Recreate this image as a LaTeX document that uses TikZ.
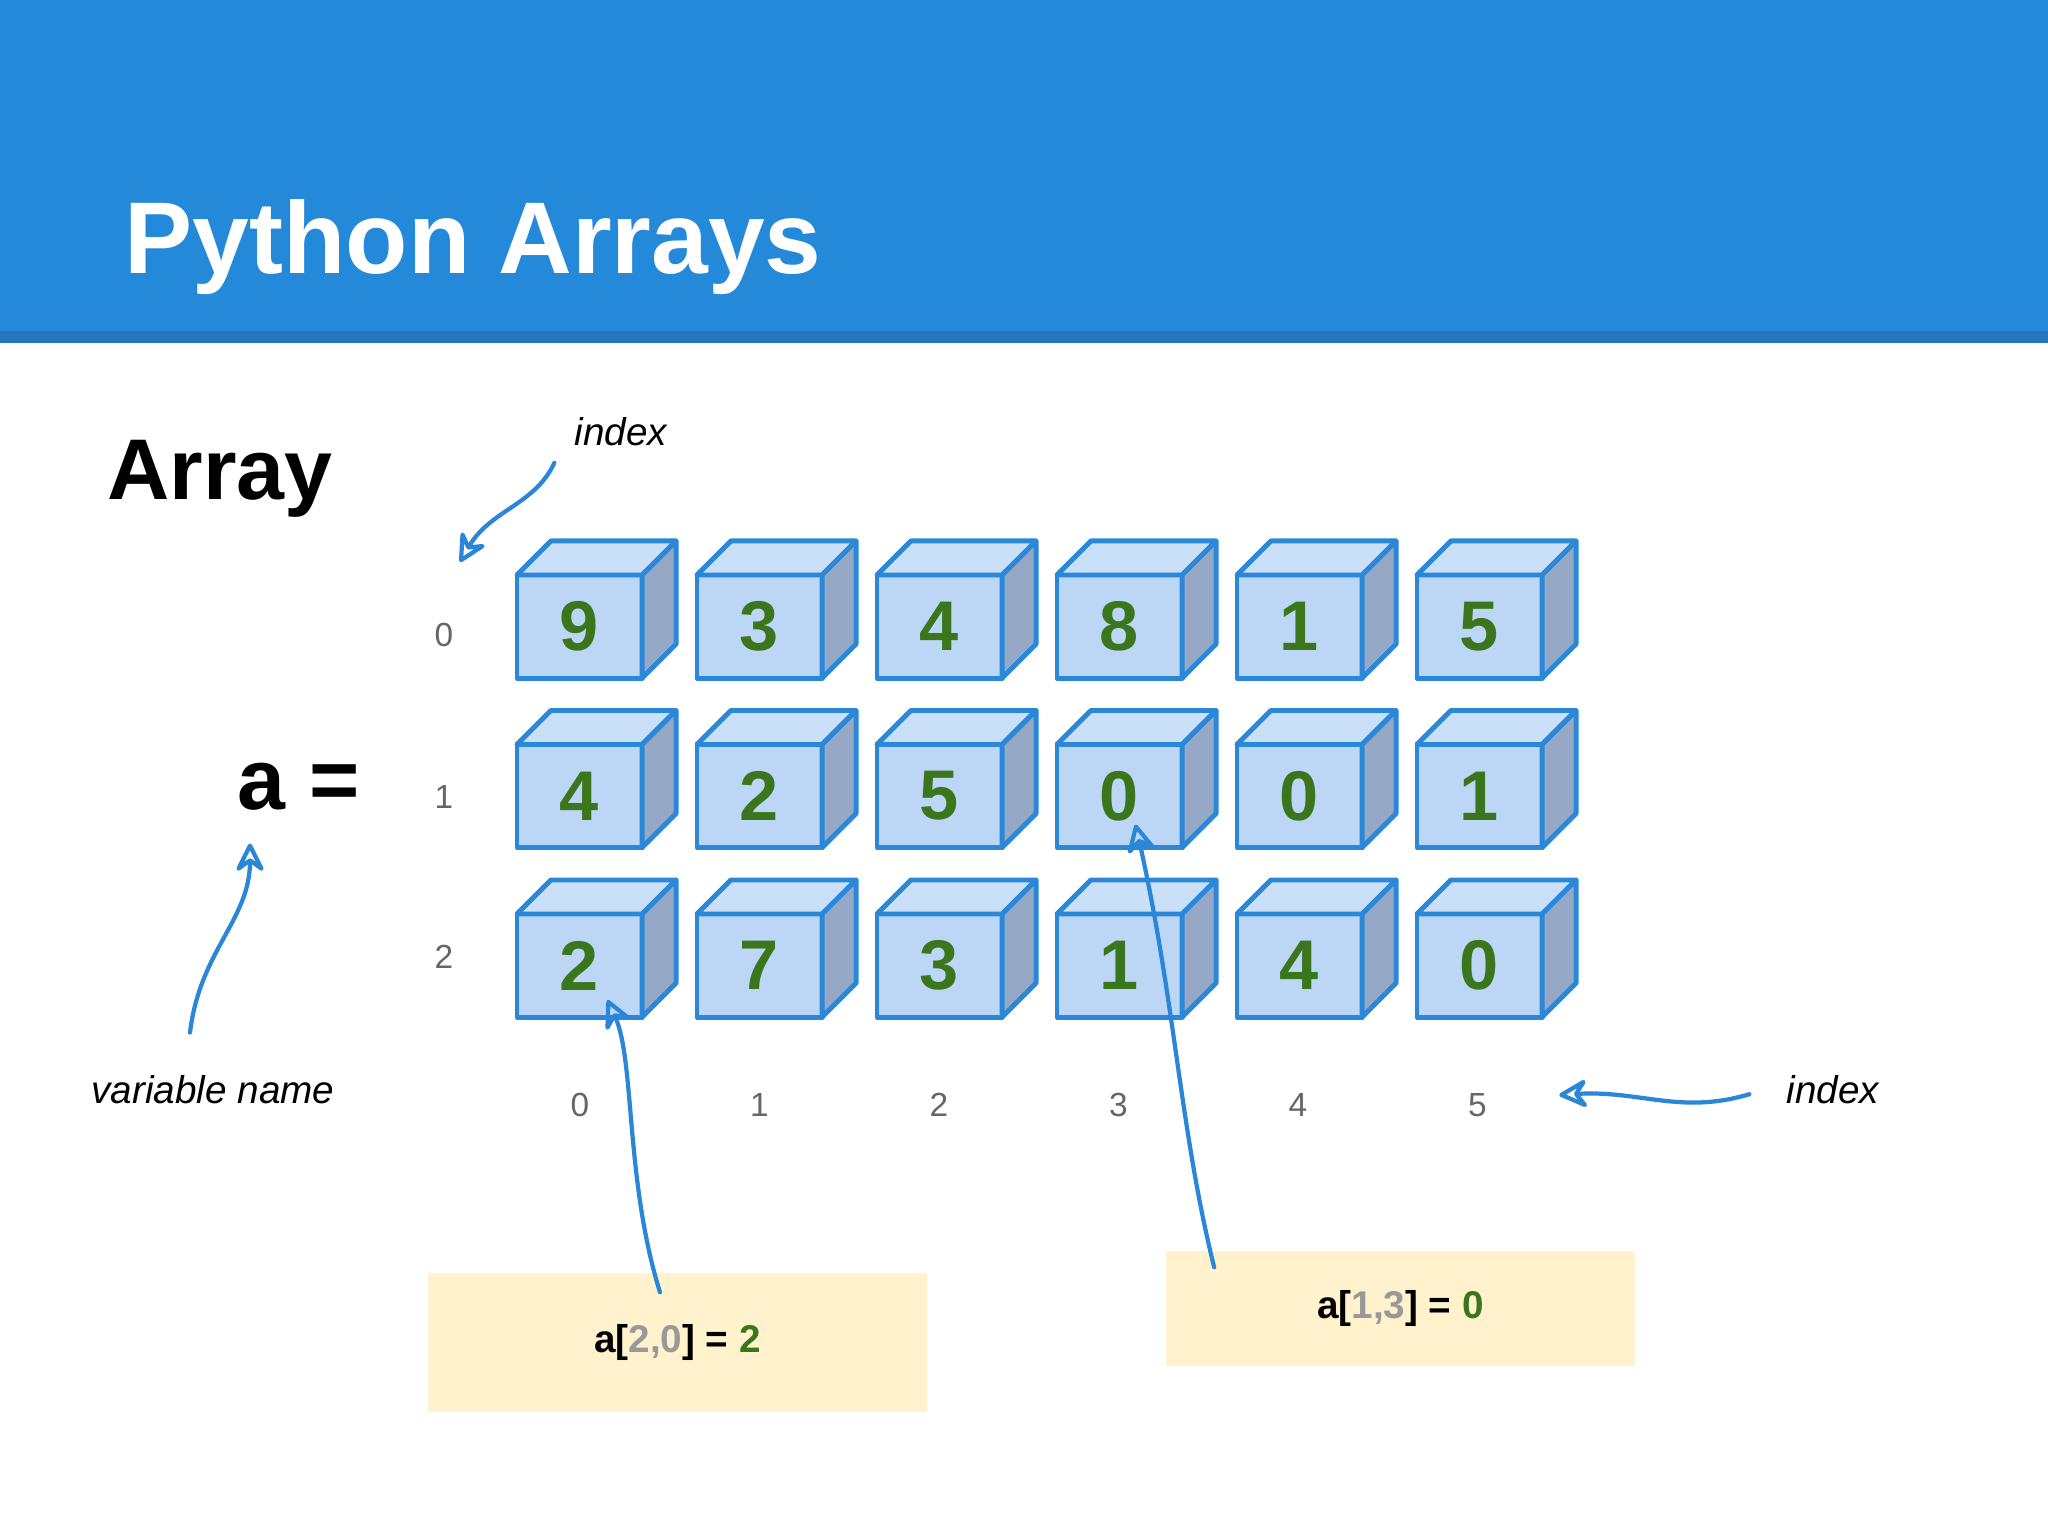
\documentclass[tikz,border=0pt]{standalone}
\usepackage{fontspec}
\setmainfont{Liberation Sans}
\usepackage{tikz}
\usetikzlibrary{arrows.meta,positioning}
\usepackage{xcolor}
\definecolor{headblue}{HTML}{2589DA}
\definecolor{headdark}{HTML}{2575BF}
\definecolor{cubeline}{HTML}{2B88D8}
\definecolor{cubefront}{HTML}{BCD7F5}
\definecolor{cubetop}{HTML}{CADFF8}
\definecolor{cubeside}{HTML}{95A9C7}
\definecolor{numgreen}{HTML}{3B761D}
\definecolor{labgray}{HTML}{666666}
\definecolor{keygray}{HTML}{999999}
\definecolor{notebox}{HTML}{FFF2CC}
\definecolor{penblue}{HTML}{2A87D8}
\newcommand{\Key}[1]{\textcolor{keygray}{#1}}
\newcommand{\Val}[1]{\textcolor{numgreen}{#1}}

\begin{document}
\begin{tikzpicture}[x=0.01cm,y=-0.01cm,
  cell/.style={rectangle,draw=cubeline,fill=cubefront,line width=1.4pt,line join=round,
    minimum width=1.25cm,minimum height=1.03cm,inner sep=0pt,outer sep=0pt,
    text=numgreen,font=\fontsize{20}{24}\selectfont\bfseries},
  celltop/.style={draw=cubeline,fill=cubetop,line width=1.4pt,line join=round},
  cellside/.style={draw=cubeline,fill=cubeside,line width=1.4pt,line join=round},
  idx/.style={text=labgray,font=\fontsize{9.5}{11}\selectfont},
  hint/.style={font=\fontsize{11}{13}\selectfont\itshape},
  note/.style={rectangle,fill=notebox,inner sep=0pt,font=\fontsize{11}{13}\selectfont\bfseries},
  pen/.style={draw=penblue,line width=1.2pt,line cap=round,
    -{Stealth[open,round,length=0.34cm,width=0.34cm,inset=0.12cm]}}]
% \draw[help lines] (0,0) grid (2048,1536);
\useasboundingbox (0,0) rectangle (2048,1536);
\fill[white] (0,0) rectangle (2048,1536);
%
% header
\fill[headblue] (0,0) rectangle (2048,331);
\fill[headdark] (0,331) rectangle (2048,343);
\node (title) [anchor=base west,inner sep=0pt,text=white,font=\fontsize{29}{34}\selectfont\bfseries] at (124,273) {Python Arrays};
%
\node (arr) [anchor=base west,inner sep=0pt,font=\fontsize{24.5}{29}\selectfont\bfseries] at (107,499) {Array};
\node (aeq) [anchor=base west,inner sep=0pt,font=\fontsize{24.5}{29}\selectfont\bfseries] at (237,809) {a =};
%
% the cubes
\foreach \vals [count=\r from 0] in {{9,3,4,8,1,5},{4,2,5,0,0,1},{2,7,3,1,4,0}} {
  \foreach \v [count=\c from 0] in \vals {
    \node (c-\r-\c) [cell] at (579.5+180*\c,626.5+169.5*\r) {\v};
    \draw[celltop] (c-\r-\c.north west) -- ++(0.34cm,0.34cm) -- ++(1.25cm,0) -- (c-\r-\c.north east) -- cycle;
    \draw[cellside] (c-\r-\c.north east) -- ++(0.34cm,0.34cm) -- ++(0,-1.03cm) -- (c-\r-\c.south east) -- cycle;
  }
}
%
% indices
\node (row-0) [idx] at (444,635) {0};
\node (row-1) [idx] at (444,797) {1};
\node (row-2) [idx] at (444,957) {2};
\foreach \c in {0,...,5}
  \node (col-\c) [idx] at (580+179.5*\c,1105) {\c};
%
\node (idxtop) [hint,anchor=base] at (621,445) {index};
\node (idxright) [hint,anchor=base] at (1833,1103) {index};
\node (vname) [hint,anchor=base] at (213,1103) {variable name};
%
\node (ans1) [note,minimum width=4.99cm,minimum height=1.39cm] at (677.5,1342.5) {a[\Key{2,0}] = \Val{2}};
\node (ans2) [note,minimum width=4.69cm,minimum height=1.15cm] at (1400.5,1308.5) {a[\Key{1,3}] = \Val{0}};
%
\coordinate (rowtip) at (460,562);
\path[pen] ([xshift=-0.08cm,yshift=-0.05cm]idxtop.south west) .. controls (535,505) and (490,510) .. (rowtip);
\path[pen] ([xshift=-0.23cm,yshift=0.3cm]vname.north) .. controls (200,950) and (250,920) .. ([xshift=0.13cm,yshift=-0.33cm]aeq.south west);
\path[pen] ([xshift=-0.25cm,yshift=-0.05cm]idxright.west) .. controls (1680,1115) and (1640,1090) .. ([xshift=0.6cm,yshift=0.1cm]col-5.east);
\path[pen] ([xshift=-0.175cm,yshift=-0.2cm]ans1.north) .. controls (625,1180) and (635,1060) .. ([xshift=0.28cm,yshift=0.17cm]c-2-0.south);
\path[pen] ([xshift=0.49cm,yshift=-0.17cm]ans2.north west) .. controls (1180,1130) and (1175,1000) .. ([xshift=0.16cm,yshift=0.23cm]c-1-3.south);
\end{tikzpicture}
\end{document}
